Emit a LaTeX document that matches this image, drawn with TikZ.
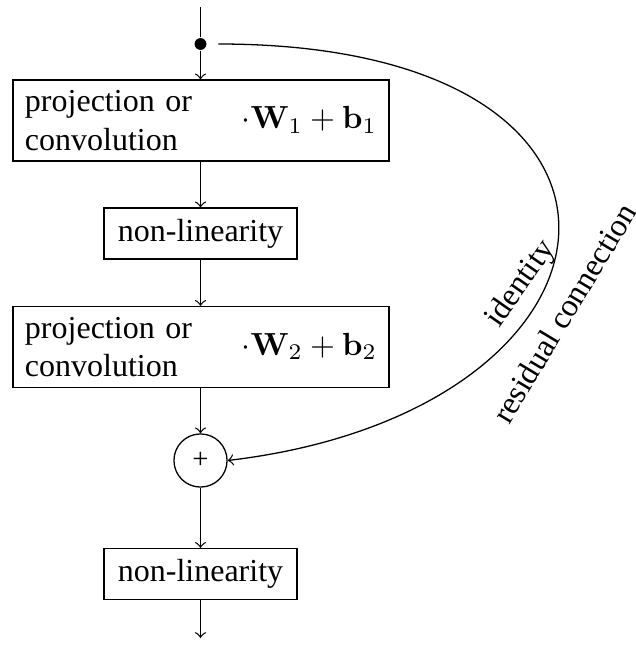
\documentclass[tikz,border=0pt]{standalone}
\usepackage[no-math]{fontspec}
\setmainfont{Liberation Serif}
\begin{document}
\begin{tikzpicture}[x=0.3125pt,y=-0.3125pt,
  line width=0.4pt,
  flow/.style={->},
  wideblock/.style={draw, rectangle, align=left, text width=110pt,
    inner xsep=3.75pt, inner ysep=0pt, minimum height=25.3pt},
  smallblock/.style={draw, rectangle, inner sep=0pt,
    minimum width=60.3pt, minimum height=15.9pt},
  sumnode/.style={draw, circle, inner sep=0pt, minimum size=16.6pt, font=\small},
  junction/.style={circle, fill=black, inner sep=0pt, minimum size=3.7pt},
  curvelabel/.style={inner sep=0pt}]
  \useasboundingbox (0,0) rectangle (635,653);

  % entry and branch point
  \coordinate (in) at (200.5,7);
  \node[junction] (split) at (200.5,44) {};

  % main path
  \node[wideblock] (proj1) at (201,120.5)
    {\parbox[c]{60pt}{projection or\\convolution}\hfill$\cdot\mathbf{W}_1+\mathbf{b}_1$};
  \node[smallblock] (act1) at (200.5,233.5) {non-linearity};
  \node[wideblock] (proj2) at (201,347)
    {\parbox[c]{60pt}{projection or\\convolution}\hfill$\cdot\mathbf{W}_2+\mathbf{b}_2$};
  \node[sumnode] (sum) at (200.5,460.5) {+};
  \node[smallblock] (act2) at (200.5,574) {non-linearity};
  \coordinate (out) at (200.5,638);

  \draw (in) -- (split);
  \draw[flow] (split) -- (split |- proj1.north);
  \draw[flow] (proj1.south -| act1) -- (act1.north);
  \draw[flow] (act1.south) -- (act1.south |- proj2.north);
  \draw[flow] (sum |- proj2.south) -- (sum.north);
  \draw[flow] (sum.south) -- (act2.north);
  \draw[flow] (act2.south) -- (out);

  % skip connection
  \draw[flow, shorten <=3.5pt] (split.east) .. controls +(486,0) and +(420,-50) .. (sum.east);
  \node[curvelabel, rotate=55] (lblid) at (521,284) {identity};
  \node[curvelabel, rotate=59] (lblres) at (564,313) {residual connection};
\end{tikzpicture}
\end{document}
